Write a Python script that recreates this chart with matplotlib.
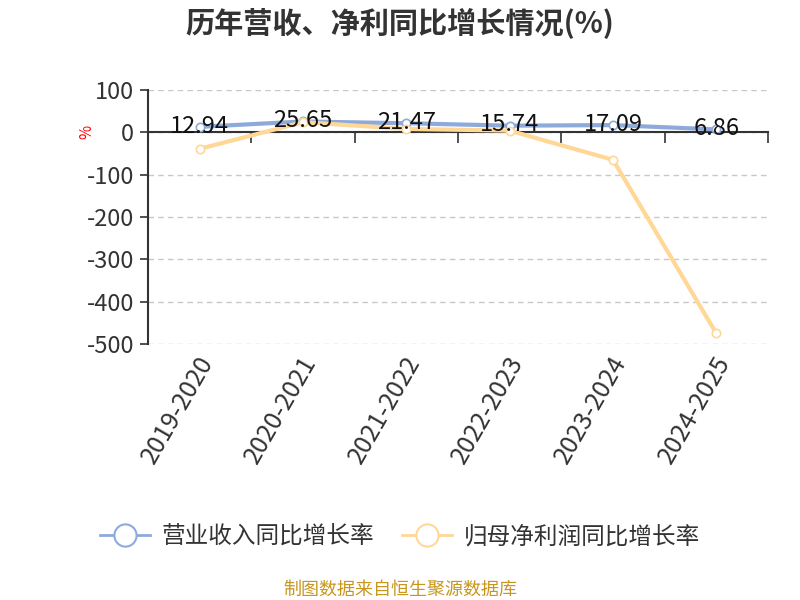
import matplotlib
matplotlib.use("Agg")
import matplotlib.pyplot as plt
import matplotlib.transforms as mtransforms
from matplotlib.lines import Line2D

plt.rcParams['font.family'] = ['Noto Sans CJK SC', 'DejaVu Sans']

categories = ["2019-2020", "2020-2021", "2021-2022", "2022-2023", "2023-2024", "2024-2025"]
revenue_growth = [12.94, 25.65, 21.47, 15.74, 17.09, 6.86]
profit_growth = [-39, 24, 8, 4, -65, -475]
yticks = [100, 0, -100, -200, -300, -400, -500]

blue = "#8eaadb"
orange = "#ffd797"

fig = plt.figure(figsize=(8, 6), dpi=100)
ax = fig.add_axes([0.185, 0.4267, 0.775, 0.4233])
x = list(range(len(categories)))

ax.set_xlim(-0.5, len(categories) - 0.5)
ax.set_ylim(-500, 100)
ax.set_yticks(yticks)
ax.set_yticklabels([str(v) for v in yticks], fontsize=17, color="#333333")
for y in yticks:
    ax.axhline(y, color="#c8c8c8", linestyle=(0, (4, 3)), linewidth=1, zorder=0)

ax.plot(x, revenue_growth, color=blue, linewidth=3, marker="o", markersize=6,
        markerfacecolor="white", markeredgecolor=blue, markeredgewidth=1.2, zorder=3)
ax.plot(x, profit_growth, color=orange, linewidth=3, marker="o", markersize=6,
        markerfacecolor="white", markeredgecolor=orange, markeredgewidth=1.2, zorder=3)

for xi, v in zip(x, revenue_growth):
    ax.text(xi, v + 2, f"{v:.2f}", ha="center", va="center", fontsize=17, color="#111111", zorder=4)

for s in ["top", "right"]:
    ax.spines[s].set_visible(False)
ax.spines["bottom"].set_position(("data", 0))
ax.spines["bottom"].set_color("#333333")
ax.spines["bottom"].set_linewidth(1.5)
ax.spines["left"].set_color("#333333")
ax.spines["left"].set_linewidth(1.5)
ax.tick_params(axis="y", length=6, width=1.2, color="#333333", pad=4)

ax.set_xticks([i + 0.5 for i in range(-1, len(categories))])
ax.set_xticklabels([])
ax.tick_params(axis="x", length=8, width=1.2, color="#333333", direction="out")

trans = mtransforms.blended_transform_factory(ax.transData, ax.transAxes)
for xi, c in zip(x, categories):
    ax.text(xi - 0.03, -0.03, c, transform=trans, rotation=60, ha="right", va="top",
            fontsize=18, color="#333333", rotation_mode="anchor")

fig.text(0.109, 0.78, "%", color="red", fontsize=11, rotation=90, ha="center", va="center")

fig.text(0.5, 0.96, "历年营收、净利同比增长情况(%)", ha="center", va="center",
         fontsize=21, fontweight="bold", color="#333333")

handles = [
    Line2D([0], [0], color=blue, linewidth=2, marker="o", markersize=16,
           markerfacecolor="white", markeredgecolor=blue, markeredgewidth=1.5),
    Line2D([0], [0], color=orange, linewidth=2, marker="o", markersize=16,
           markerfacecolor="white", markeredgecolor=orange, markeredgewidth=1.5),
]
fig.legend(handles, ["营业收入同比增长率", "归母净利润同比增长率"], loc="center",
           bbox_to_anchor=(0.5, 0.105), ncol=2, frameon=False, fontsize=17,
           labelcolor="#333333", handlelength=2.1, columnspacing=1.2, handletextpad=0.5)

fig.text(0.5, 0.017, "制图数据来自恒生聚源数据库", ha="center", va="center",
         fontsize=13, color="#c8961e")

fig.savefig("out.png", dpi=100)
